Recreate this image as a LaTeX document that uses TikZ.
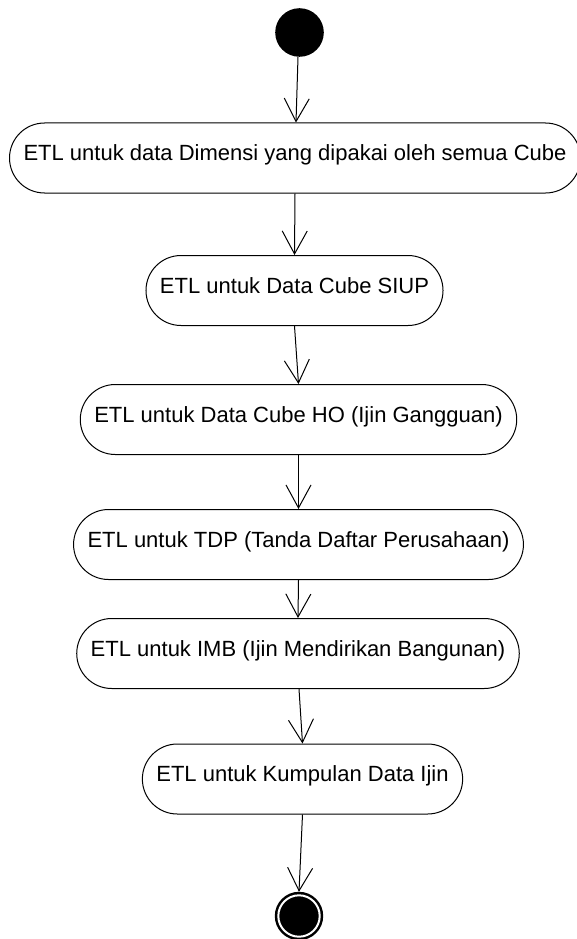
\documentclass[tikz,border=0pt]{standalone}
\usepackage{fontspec}
\setmainfont{Liberation Sans}
\usetikzlibrary{arrows.meta}
\begin{document}
\begin{tikzpicture}[
    x=1pt, y=-1pt,
    every node/.style={font=\fontsize{22pt}{26pt}\selectfont},
    activity/.style={draw, line width=1pt, rounded corners=35pt,
      minimum height=70pt, inner xsep=14pt,
      text height=0.72em, text depth=0.15em},
    initstate/.style={circle, fill=black, minimum size=48.6pt, inner sep=0pt},
    finalstate/.style={circle, fill=black, draw=black, double=white,
      double distance=2pt, line width=2.5pt, minimum size=41.4pt,
      inner sep=0pt, outer sep=3.5pt},
    flow/.style={draw, line width=1pt, -{Straight Barb[length=23pt, width=25pt]}}
  ]
  \useasboundingbox (0,0) rectangle (576,939);
  \node[initstate] (start) at (299.5,32.5) {};
  \node[activity] (dimensi) at (295,158) {ETL untuk data Dimensi yang dipakai oleh semua Cube};
  \node[activity] (siup) at (294.5,290.5) {ETL untuk Data Cube SIUP};
  \node[activity] (ho) at (298.5,419.5) {ETL untuk Data Cube HO (Ijin Gangguan)};
  \node[activity] (tdp) at (298.5,544.5) {ETL untuk TDP (Tanda Daftar Perusahaan)};
  \node[activity] (imb) at (298,653.5) {ETL untuk IMB (Ijin Mendirikan Bangunan)};
  \node[activity] (ijin) at (302.5,779) {ETL untuk Kumpulan Data Ijin};
  \node[finalstate] (finish) at (299,916) {};
  % alur aktivitas
  \draw[flow] ([xshift=-1.5pt]start.south) -- ([xshift=1pt]dimensi.north);
  \draw[flow] (dimensi.south) -- (siup.north);
  \draw[flow] (siup.south) -- (ho.north);
  \draw[flow] (ho.south) -- (tdp.north);
  \draw[flow] (tdp.south) -- (imb.north);
  \draw[flow] ([xshift=1pt]imb.south) -- (ijin.north);
  \draw[flow] (ijin.south) -- (finish.north);
\end{tikzpicture}
\end{document}
